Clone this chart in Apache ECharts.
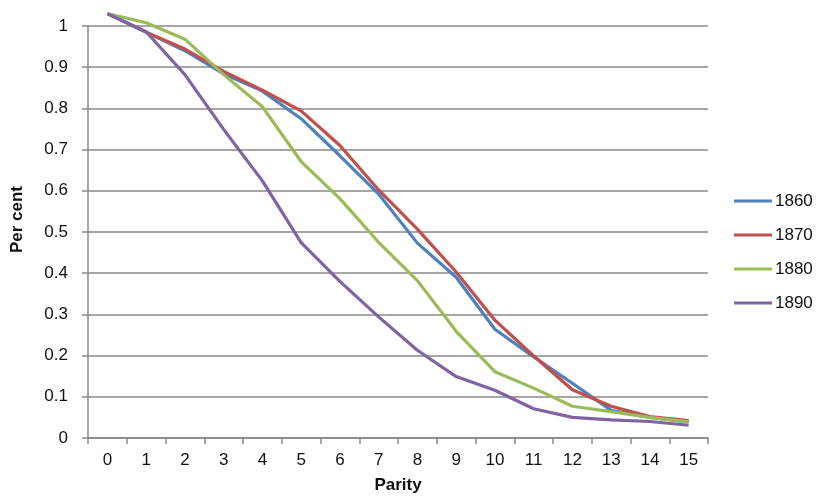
<!DOCTYPE html>
<html>
<head>
<meta charset="utf-8">
<script src="https://cdn.jsdelivr.net/npm/echarts@6/dist/echarts.min.js"></script>
<style>
html,body{margin:0;padding:0;background:#fff;}
#chart{width:817px;height:499px;}
</style>
</head>
<body>
<div id="chart"></div>
<script>
var parity = ['0','1','2','3','4','5','6','7','8','9','10','11','12','13','14','15'];
var seriesNames = ['1860','1870','1880','1890'];
var s1860 = [1.03, 0.985, 0.940, 0.884, 0.842, 0.775, 0.685, 0.592, 0.473, 0.390, 0.264, 0.197, 0.133, 0.067, 0.050, 0.039];
var s1870 = [1.03, 0.985, 0.944, 0.890, 0.844, 0.794, 0.710, 0.602, 0.507, 0.403, 0.286, 0.199, 0.117, 0.077, 0.052, 0.042];
var s1880 = [1.03, 1.008, 0.968, 0.882, 0.804, 0.671, 0.581, 0.475, 0.382, 0.259, 0.161, 0.121, 0.077, 0.064, 0.050, 0.039];
var s1890 = [1.03, 0.986, 0.882, 0.749, 0.624, 0.474, 0.380, 0.294, 0.213, 0.149, 0.116, 0.071, 0.050, 0.044, 0.040, 0.031];
var colors = ['#4F81BD', '#C0504D', '#9BBB59', '#8064A2'];
var allData = [s1860, s1870, s1880, s1890];

var font = 'Liberation Sans, Arial, Helvetica, sans-serif';
var chart = echarts.init(document.getElementById('chart'), null, {renderer: 'canvas'});
var series = seriesNames.map(function (n, i) {
  return {
    name: n,
    type: 'line',
    data: allData[i],
    symbol: 'none',
    clip: false,
    lineStyle: {width: 3.2, color: colors[i]},
    itemStyle: {color: colors[i]}
  };
});
chart.setOption({
  animation: false,
  backgroundColor: '#fff',
  color: colors,
  textStyle: {fontFamily: font},
  grid: {left: 88, right: 109, top: 26, bottom: 59, containLabel: false},
  legend: {
    orient: 'vertical',
    left: 729,
    top: 186,
    icon: 'rect',
    itemWidth: 38,
    itemHeight: 3,
    itemGap: 14,
    data: seriesNames,
    textStyle: {fontSize: 17, color: '#111', fontFamily: font, padding: [0, 0, 0, -2], lineHeight: 20}
  },
  graphic: [{
    type: 'text',
    left: 9,
    top: 186,
    rotation: Math.PI / 2,
    style: {text: 'Per cent', fontSize: 17, fontWeight: 'bold', fill: '#111', font: 'bold 17px Liberation Sans, Arial, sans-serif'}
  }],
  xAxis: {
    type: 'category',
    data: parity,
    boundaryGap: true,
    name: 'Parity',
    nameLocation: 'middle',
    nameGap: 39,
    nameTextStyle: {fontSize: 17, fontWeight: 'bold', color: '#111', fontFamily: font},
    axisLine: {lineStyle: {color: '#888', width: 1.5}},
    axisTick: {show: true, length: 6, lineStyle: {color: '#888', width: 1.5}},
    axisLabel: {fontSize: 17, color: '#111', margin: 14, fontFamily: font},
    splitLine: {show: false}
  },
  yAxis: {
    type: 'value',
    min: 0,
    max: 1,
    interval: 0.1,
    axisLine: {show: true, lineStyle: {color: '#888', width: 1.5}},
    axisTick: {show: true, length: 6, lineStyle: {color: '#888', width: 1.5}},
    axisLabel: {fontSize: 17, color: '#111', margin: 20, fontFamily: font},
    splitLine: {show: true, lineStyle: {color: '#888', width: 1.5}}
  },
  series: series
});
</script>
</body>
</html>
